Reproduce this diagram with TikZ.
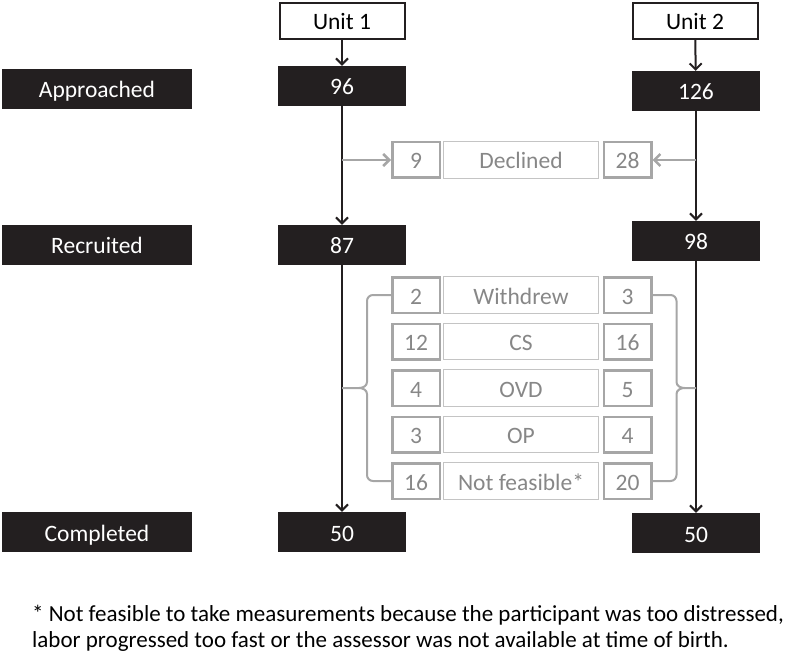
\documentclass[tikz,border=0pt]{standalone}
\usepackage{fontspec}
\setmainfont{Carlito}
\usetikzlibrary{arrows.meta,calc}
\definecolor{boxblack}{HTML}{231F20}
\definecolor{gbox}{HTML}{A6A6A6}
\definecolor{gthin}{HTML}{C4C4C4}
\definecolor{gtext}{HTML}{878787}
\begin{document}
\begin{tikzpicture}[x=1pt,y=-1pt,
  every node/.style={font=\fontsize{23.5}{28}\selectfont, inner sep=0pt},
  boxtext/.style={text height=18pt, text depth=0pt},
  blk/.style={boxtext, fill=boxblack, text=white, minimum height=40pt},
  lab/.style={blk, minimum width=190pt},
  cnt/.style={blk, minimum width=128pt},
  unitbox/.style={boxtext, draw=boxblack, line width=2pt, fill=white, minimum width=125pt, minimum height=36pt},
  gnum/.style={boxtext, draw=gbox, line width=2.5pt, text=gtext, minimum width=47.5pt, minimum height=35.5pt},
  glab/.style={boxtext, draw=gthin, line width=1.2pt, text=gtext, minimum width=155pt, minimum height=36.5pt},
  flow/.style={line width=2pt, draw=boxblack, -{Straight Barb[length=6pt,width=12pt,line width=2pt]}},
  gflow/.style={line width=2.5pt, draw=gbox, -{Straight Barb[length=6pt,width=12pt,line width=2.5pt]}},
  bracestyle/.style={draw=gbox, line width=2pt}]
\useasboundingbox (0,0) rectangle (797,660);

% unit headers
\node[unitbox] (u1) at (342,21) {Unit 1};
\node[unitbox] (u2) at (695,21) {Unit 2};

% row labels
\node[lab] (appr) at (97,89) {Approached};
\node[lab] (recr) at (97,245) {Recruited};
\node[lab] (comp) at (97,532) {Completed};

% counts
\node[cnt] (a1) at (342,86) {96};
\node[cnt] (a2) at (696,91) {126};
\node[cnt] (r1) at (342,245) {87};
\node[cnt] (r2) at (696,241) {98};
\node[cnt] (c1) at (342,532) {50};
\node[cnt] (c2) at (696,533) {50};

% declined
\node[gnum] (d1) at (416,160) {9};
\node[glab] (dl) at (521,160) {Declined};
\node[gnum] (d2) at (627.5,160) {28};

% exclusions
\node[gnum] (w1) at (416,295) {2};
\node[glab] (wl) at (521,295) {Withdrew};
\node[gnum] (w2) at (627.5,295) {3};

\node[gnum] (s1) at (416,341.5) {12};
\node[glab] (sl) at (521,341.5) {CS};
\node[gnum] (s2) at (627.5,341.5) {16};

\node[gnum] (o1) at (416,388) {4};
\node[glab] (ol) at (521,388) {OVD};
\node[gnum] (o2) at (627.5,388) {5};

\node[gnum] (p1) at (416,434.5) {3};
\node[glab] (pl) at (521,434.5) {OP};
\node[gnum] (p2) at (627.5,434.5) {4};

\node[gnum] (f1) at (416,481) {16};
\node[glab] (fl) at (521,481) {Not feasible*};
\node[gnum] (f2) at (627.5,481) {20};

% main flow
\draw[flow] (u1) -- (a1);
\draw[flow] (a1) -- (r1);
\draw[flow] (r1) -- (c1);
\draw[flow] (u2) -- (a2);
\draw[flow] (a2) -- (r2);
\draw[flow] (r2) -- (c2);

% declined arrows
\coordinate (dL) at (a1.south |- d1.west);
\coordinate (dR) at (a2.south |- d2.east);
\draw[gflow] (dL) -- (d1);
\draw[gflow] (dR) -- (d2);

% braces
\coordinate (bL) at (r1.south |- o1.west);
\coordinate (bR) at (r2.south |- o2.east);
\draw[bracestyle] (w1.west) -- ++(-18,0) to[out=180,in=90] ++(-6,6)
  -- ($(o1.west)+(-24,-6)$) to[out=-90,in=0] ($(o1.west)+(-32,0)$) -- (bL);
\draw[bracestyle] (f1.west) -- ++(-18,0) to[out=180,in=-90] ++(-6,-6)
  -- ($(o1.west)+(-24,6)$) to[out=90,in=0] ($(o1.west)+(-32,0)$);
\draw[bracestyle] (w2.east) -- ++(18,0) to[out=0,in=90] ++(6,6)
  -- ($(o2.east)+(24,-6)$) to[out=-90,in=180] ($(o2.east)+(32,0)$) -- (bR);
\draw[bracestyle] (f2.east) -- ++(18,0) to[out=0,in=-90] ++(6,-6)
  -- ($(o2.east)+(24,6)$) to[out=90,in=180] ($(o2.east)+(32,0)$);

% footnote
\node[anchor=base west, align=left, font=\fontsize{23}{26}\selectfont] (note) at (32,647)
  {* Not feasible to take measurements because the participant was too distressed,\\
   labor progressed too fast or the assessor was not available at time of birth.};
\end{tikzpicture}
\end{document}
